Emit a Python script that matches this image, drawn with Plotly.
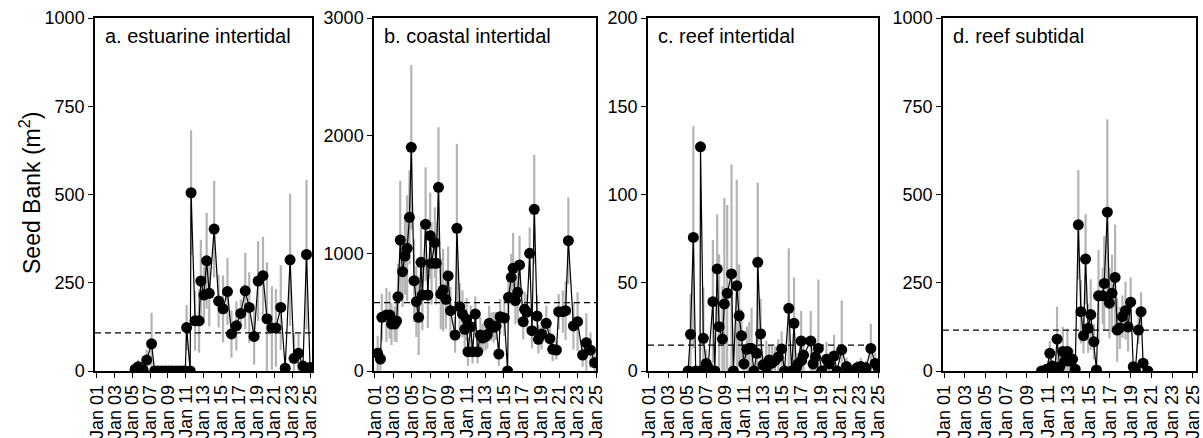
import plotly.graph_objects as go

# ---------------- data ----------------
tick_years = [2001, 2003, 2005, 2007, 2009, 2011, 2013, 2015, 2017, 2019, 2021, 2023, 2025]
tick_labels = ["Jan 01", "Jan 03", "Jan 05", "Jan 07", "Jan 09", "Jan 11", "Jan 13",
               "Jan 15", "Jan 17", "Jan 19", "Jan 21", "Jan 23", "Jan 25"]

titles = ["a. estuarine intertidal", "b. coastal intertidal", "c. reef intertidal", "d. reef subtidal"]

# a. estuarine intertidal
yrs_a = [2005.3, 2005.65, 2006.2, 2006.6, 2007.15, 2007.5, 2007.9, 2008.3, 2008.7, 2009.1,
         2009.5, 2009.9, 2010.3, 2010.7, 2010.95, 2011.1, 2011.5, 2011.6, 2012.05, 2012.5,
         2012.7, 2013.05, 2013.35, 2013.65, 2014.2, 2014.7, 2015.2, 2015.7, 2016.15, 2016.7,
         2017.2, 2017.7, 2018.15, 2018.7, 2019.15, 2019.7, 2020.15, 2020.7, 2021.15, 2021.7,
         2022.2, 2022.75, 2023.2, 2023.7, 2024.2, 2024.6, 2025.0]
vals_a = [5, 12, 3, 31, 77, 0, 0, 0, 0, 0,
          0, 0, 0, 0, 0, 123, 0, 505, 142, 142,
          255, 215, 312, 220, 402, 198, 176, 225, 105, 128,
          163, 227, 180, 98, 255, 270, 148, 122, 122, 180,
          8, 315, 36, 50, 14, 330, 10]
err_a = [8, 20, 5, 30, 88, 0, 0, 0, 0, 0,
         0, 0, 0, 0, 0, 64, 0, 177, 85, 90,
         117, 80, 136, 94, 137, 75, 95, 95, 67, 70,
         40, 108, 100, 80, 113, 110, 160, 118, 110, 120,
         10, 187, 71, 55, 15, 212, 12]
mean_a = 108

# b. coastal intertidal
yrs_b = [2001.3, 2001.6, 2001.75, 2002.25, 2002.6, 2002.8, 2003.15, 2003.35, 2003.5, 2003.75,
         2004.0, 2004.25, 2004.5, 2004.75, 2004.95, 2005.25, 2005.5, 2005.75, 2006.0, 2006.15,
         2006.5, 2006.75, 2007.0, 2007.15, 2007.5, 2007.65, 2007.9, 2008.15, 2008.4, 2008.7,
         2008.95, 2009.2, 2009.7, 2009.9, 2010.2, 2010.5, 2010.75, 2010.95, 2011.1, 2011.4,
         2011.6, 2011.9, 2012.15, 2012.45, 2012.7, 2013.0, 2013.2, 2013.4, 2013.65, 2013.9,
         2014.15, 2014.45, 2014.6, 2015.05, 2015.4, 2015.5, 2015.8, 2016.0, 2016.25, 2016.5,
         2016.7, 2017.1, 2017.25, 2017.5, 2017.8, 2018.05, 2018.3, 2018.6, 2018.75, 2019.1,
         2019.6, 2020.0, 2020.3, 2020.7, 2020.95, 2021.4, 2021.7, 2022.0, 2022.55, 2023.0,
         2023.55, 2023.95, 2024.4, 2024.85]
vals_b = [150, 102, 456, 476, 476, 400, 400, 425, 632, 1113,
          844, 977, 1043, 1306, 1901, 768, 589, 456, 924, 646,
          1247, 646, 1150, 915, 1091, 915, 1561, 654, 688, 609,
          808, 513, 306, 1213, 547, 484, 354, 439, 164, 377,
          164, 484, 164, 306, 280, 293, 310, 405, 377, 371,
          383, 144, 462, 450, 0, 626, 796, 873, 598, 669,
          901, 419, 524, 500, 1000, 343, 1374, 467, 269, 314,
          405, 275, 184, 178, 504, 504, 513, 1108, 383, 419,
          136, 241, 178, 71]
err_b = [150, 100, 200, 230, 200, 180, 150, 180, 280, 505,
         300, 330, 450, 400, 700, 350, 300, 320, 350, 300,
         484, 280, 366, 350, 300, 350, 510, 300, 350, 250,
         250, 200, 150, 717, 200, 200, 150, 180, 120, 180,
         100, 150, 100, 150, 120, 120, 120, 150, 120, 130,
         120, 100, 150, 150, 0, 180, 200, 300, 200, 250,
         250, 150, 150, 150, 220, 150, 462, 180, 120, 130,
         150, 120, 100, 80, 150, 180, 250, 368, 200, 250,
         100, 250, 150, 100]
mean_b = 581

# c. reef intertidal
yrs_c = [2005.1, 2005.35, 2005.65, 2005.9, 2006.35, 2006.4, 2006.7, 2007.0, 2007.2, 2007.7,
         2007.9, 2008.15, 2008.35, 2008.7, 2008.9, 2009.2, 2009.65, 2009.85, 2010.2, 2010.45,
         2010.7, 2010.95, 2011.25, 2011.5, 2011.75, 2012.0, 2012.3, 2012.4, 2012.7, 2012.95,
         2013.3, 2013.6, 2013.9, 2014.2, 2014.55, 2014.9, 2015.2, 2015.65, 2015.95, 2016.2,
         2016.45, 2016.6, 2016.95, 2017.0, 2017.2, 2017.95, 2018.2, 2018.45, 2018.75, 2019.1,
         2019.6, 2019.9, 2020.4, 2020.7, 2021.2, 2021.7, 2022.25, 2022.8, 2023.2, 2023.75,
         2024.25, 2024.7, 2025.0]
vals_c = [0, 20.8, 75.7, 0, 0, 127, 18.5, 4.3, 2, 39.3,
          0, 57.8, 25.1, 18.1, 38, 44, 55, 0, 48.3, 31.3,
          20, 4, 12.3, 12.8, 12.8, 0, 10, 61.6, 21, 3.4,
          2, 6.2, 4.5, 6, 8, 12.5, 0, 35.5, 0, 27,
          2, 4, 17, 6, 9, 17, 4, 8, 12.8, 0,
          6.6, 4, 8.5, 0, 12, 2.5, 0, 1.8, 2.5, 1.8,
          12.8, 4.3, 2]
err_c = [0, 23, 63, 0, 0, 3, 29, 8, 4, 35,
         0, 31, 41, 30, 60, 50, 62, 0, 60, 29,
         15, 6, 13, 15, 23, 0, 10, 45, 20, 5,
         15, 8, 10, 8, 10, 10, 0, 34, 0, 26,
         4, 6, 17, 8, 10, 17, 6, 10, 39, 0,
         10, 6, 12, 0, 28, 5, 0, 4, 5, 4,
         14, 6, 5]
mean_c = 14.7

# d. reef subtidal
yrs_d = [2010.4, 2010.9, 2011.2, 2011.45, 2011.7, 2011.9, 2012.15, 2012.45, 2012.65, 2012.9,
         2013.1, 2013.4, 2013.65, 2013.95, 2014.2, 2014.45, 2014.65, 2014.9, 2015.15, 2015.45,
         2015.7, 2015.9, 2016.3, 2016.45, 2016.75, 2016.95, 2017.2, 2017.5, 2017.7, 2017.95,
         2018.2, 2018.5, 2018.75, 2019.0, 2019.25, 2019.45, 2019.75, 2020.0, 2020.2, 2020.65]
vals_d = [0, 5, 50, 14, 8, 90, 12, 55, 28, 55,
          28, 33, 5, 414, 168, 100, 317, 121, 160, 83,
          3, 213, 213, 248, 450, 192, 220, 265, 116, 122,
          154, 171, 125, 195, 12, 3, 116, 168, 22, 0]
err_d = [0, 8, 35, 15, 10, 92, 15, 70, 30, 65,
         30, 30, 5, 155, 90, 50, 128, 70, 100, 50,
         3, 130, 80, 134, 263, 100, 109, 150, 90, 60,
         60, 82, 70, 70, 10, 3, 40, 55, 15, 0]
mean_d = 116

yticks_all = [[0, 250, 500, 750, 1000], [0, 1000, 2000, 3000],
              [0, 50, 100, 150, 200], [0, 250, 500, 750, 1000]]

# ---------------- layout geometry (pixels) ----------------
W, H = 1203, 438
px_left = [95, 374, 648, 943]
px_right = [312, 596, 878, 1196]
xranges = [[2000.78, 2025.22], [2000.9, 2025.0], [2000.9, 2025.0], [2000.9, 2025.3]]
plot_top, plot_bot = 18, 371

FONT = "Liberation Sans, Arial, sans-serif"

series = [(yrs_a, vals_a, err_a, mean_a), (yrs_b, vals_b, err_b, mean_b),
          (yrs_c, vals_c, err_c, mean_c), (yrs_d, vals_d, err_d, mean_d)]

fig = go.Figure()
annotations = []
shapes = []
for i, (xs, ys, es, mn) in enumerate(series):
    sfx = "" if i == 0 else str(i + 1)
    xa, ya = "x" + sfx, "y" + sfx
    fig.add_trace(go.Scatter(
        x=xs, y=ys, mode="markers", xaxis=xa, yaxis=ya,
        marker=dict(size=2, color="rgba(0,0,0,0)"),
        error_y=dict(type="data", array=es, symmetric=True, color="#b4b4b4",
                     thickness=2.2, width=0),
        showlegend=False, hoverinfo="skip"))
    fig.add_trace(go.Scatter(
        x=xs, y=ys, mode="lines+markers", xaxis=xa, yaxis=ya,
        line=dict(color="black", width=1.2),
        marker=dict(size=11, color="black"),
        cliponaxis=True, showlegend=False))
    yt = yticks_all[i]
    axx = dict(domain=[px_left[i] / W, px_right[i] / W], range=xranges[i],
               tickmode="array", tickvals=tick_years, ticktext=tick_labels,
               tickangle=-90, ticks="outside", ticklen=5, tickcolor="black",
               showline=True, mirror=True, linecolor="black", linewidth=1.5,
               showgrid=False, zeroline=False, anchor=ya, automargin=False,
               tickfont=dict(family=FONT, size=18, color="black"))
    axy = dict(domain=[1 - plot_bot / H, 1 - plot_top / H], range=[0, yt[-1]],
               tickmode="array", tickvals=yt, ticktext=[str(v) for v in yt],
               ticks="outside", ticklen=5, tickcolor="black",
               showline=True, mirror=True, linecolor="black", linewidth=1.5,
               showgrid=False, zeroline=False, anchor=xa, automargin=False,
               tickfont=dict(family=FONT, size=18, color="black"))
    fig.layout["xaxis" + sfx] = axx
    fig.layout["yaxis" + sfx] = axy
    shapes.append(dict(type="line", xref=xa + " domain", yref=ya, x0=0, x1=1, y0=mn, y1=mn,
                       line=dict(color="black", width=1.2, dash="6px,4px")))
    annotations.append(dict(text=titles[i], xref="paper", yref="paper",
                            x=(px_left[i] + 8) / W, y=1 - 36 / H, xanchor="left",
                            yanchor="middle", showarrow=False,
                            font=dict(family=FONT, size=20, color="black")))

annotations.append(dict(text="Seed Bank (m<sup>2</sup>)", xref="paper", yref="paper",
                        x=30 / W, y=1 - 193 / H, xanchor="center", yanchor="middle",
                        textangle=-90, showarrow=False,
                        font=dict(family=FONT, size=23, color="black")))

fig.update_layout(width=W, height=H, margin=dict(l=0, r=0, t=0, b=0, autoexpand=False),
                  paper_bgcolor="white", plot_bgcolor="white",
                  annotations=annotations, shapes=shapes, showlegend=False)

fig.write_html("out.html",
               post_script="document.body.style.margin='0';document.body.style.overflow='hidden';")
